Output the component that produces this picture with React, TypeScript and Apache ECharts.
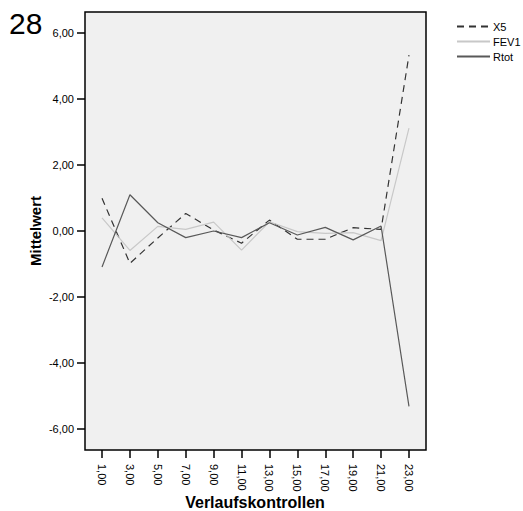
import React, { useEffect, useRef } from "react";
import * as echarts from "echarts";

const xValues = [1, 3, 5, 7, 9, 11, 13, 15, 17, 19, 21, 23];
const x5 = [0.99, -0.98, -0.21, 0.53, 0.03, -0.37, 0.33, -0.25, -0.25, 0.1, 0.05, 5.33];
const fev1 = [0.4, -0.59, 0.14, 0.05, 0.27, -0.58, 0.28, -0.02, -0.07, -0.05, -0.29, 3.12];
const rtot = [-1.09, 1.1, 0.25, -0.2, 0.0, -0.2, 0.25, -0.12, 0.11, -0.27, 0.15, -5.32];
const yTicks = [-6, -4, -2, 0, 2, 4, 6];

const FONT = "'Liberation Sans', Arial, sans-serif";
const fmt = (v: number) => v.toFixed(2).replace(".", ",");

export default function App() {
  const ref = useRef<HTMLDivElement>(null);
  useEffect(() => {
    if (!ref.current) return;
    const chart = echarts.init(ref.current, null, { renderer: "svg" });
    const pair = (arr: number[]) => xValues.map((x, i) => [x, arr[i]]);
    chart.setOption({
      animation: false,
      backgroundColor: "#ffffff",
      textStyle: { fontFamily: FONT },
      grid: {
        left: 85,
        right: 97,
        top: 12,
        bottom: 61,
        show: true,
        backgroundColor: "#f0f0f0",
        borderColor: "#000000",
        borderWidth: 1.5,
      },
      legend: {
        orient: "vertical",
        left: 456,
        top: 21,
        padding: 0,
        itemWidth: 33,
        itemHeight: 12,
        itemGap: 4,
        itemStyle: { opacity: 0 },
        textStyle: { fontFamily: FONT, fontSize: 11, color: "#000", padding: [0, 0, 0, -2] },
        data: ["X5", "FEV1", "Rtot"],
      },
      xAxis: {
        type: "value",
        min: -0.22,
        max: 24.22,
        splitLine: { show: false },
        axisLine: { show: false, onZero: false },
        axisTick: {
          show: true,
          customValues: xValues,
          length: 8,
          lineStyle: { color: "#000", width: 1.5 },
        },
        axisLabel: {
          customValues: xValues,
          rotate: -90,
          margin: 14,
          fontSize: 11,
          color: "#000",
          fontFamily: FONT,
          formatter: (v: number) => fmt(v),
        },
      },
      yAxis: {
        type: "value",
        min: -6.64,
        max: 6.64,
        splitLine: { show: false },
        axisLine: { show: false, onZero: false },
        axisTick: {
          show: true,
          customValues: yTicks,
          length: 8,
          lineStyle: { color: "#000", width: 1.5 },
        },
        axisLabel: {
          customValues: yTicks,
          margin: 11,
          fontSize: 11,
          color: "#000",
          fontFamily: FONT,
          formatter: (v: number) => fmt(v),
        },
      },
      graphic: [
        {
          type: "text",
          left: 9,
          top: 8,
          style: { text: "28", fontSize: 30, fontFamily: FONT, fill: "#000" },
        },
        {
          type: "text",
          x: 35,
          y: 231,
          rotation: Math.PI / 2,
          style: {
            text: "Mittelwert",
            fontSize: 15,
            fontWeight: "bold",
            fontFamily: FONT,
            fill: "#000",
            align: "center",
            verticalAlign: "middle",
          },
        },
        {
          type: "text",
          x: 255,
          y: 502,
          style: {
            text: "Verlaufskontrollen",
            fontSize: 16,
            fontWeight: "bold",
            fontFamily: FONT,
            fill: "#000",
            align: "center",
            verticalAlign: "middle",
          },
        },
      ],
      series: [
        {
          name: "X5",
          type: "line",
          data: pair(x5),
          symbol: "none",
          itemStyle: { color: "#333333" },
          lineStyle: { color: "#333333", width: 1.2, type: [7, 5] },
        },
        {
          name: "FEV1",
          type: "line",
          data: pair(fev1),
          symbol: "none",
          itemStyle: { color: "#c8c8c8" },
          lineStyle: { color: "#c8c8c8", width: 1.2 },
        },
        {
          name: "Rtot",
          type: "line",
          data: pair(rtot),
          symbol: "none",
          itemStyle: { color: "#595959" },
          lineStyle: { color: "#595959", width: 1.2 },
        },
      ],
    });
    return () => chart.dispose();
  }, []);
  return (
    <div
      ref={ref}
      style={{ position: "absolute", left: 0, top: 0, width: 523, height: 511 }}
    />
  );
}
